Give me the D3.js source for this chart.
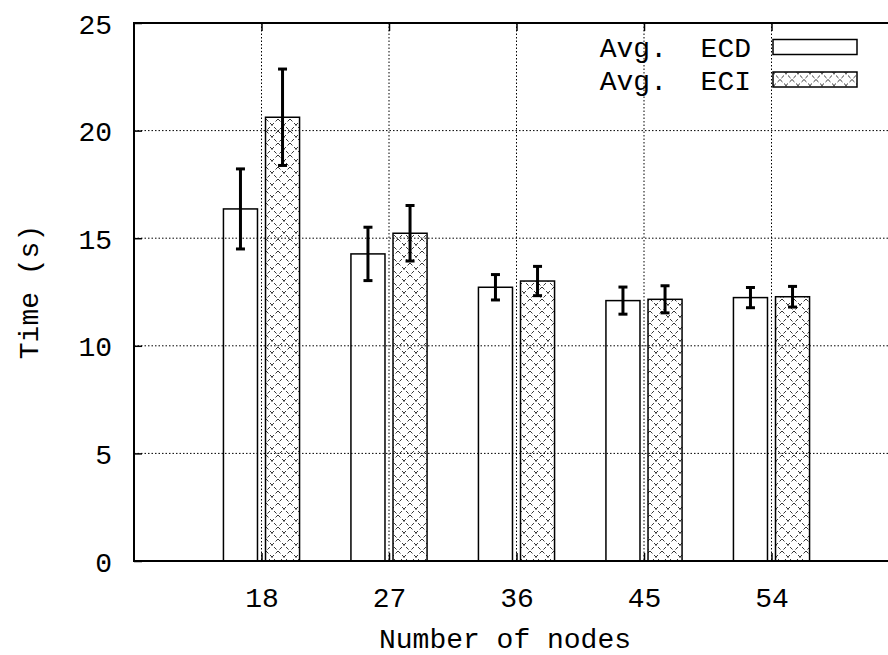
<!DOCTYPE html>
<html>
<head>
<meta charset="utf-8">
<script src="https://cdn.jsdelivr.net/npm/d3@7"></script>
<style>
  html, body { margin: 0; padding: 0; background: #fff; }
  svg text { font-family: "Liberation Mono", "Courier New", monospace; font-size: 28px; fill: #000; white-space: pre; }
</style>
</head>
<body>
<div id="chart"></div>
<script>
// number of nodes
var nodes = [18, 27, 36, 45, 54]
// average ECD time and its error
var ecdAvg = [16.36, 14.27, 12.72, 12.10, 12.24]
var ecdErr = [1.86, 1.24, 0.59, 0.63, 0.47]
// average ECI time and its error
var eciAvg = [20.62, 15.23, 13.01, 12.16, 12.28]
var eciErr = [2.24, 1.29, 0.68, 0.63, 0.48]
var yTicks = [0, 5, 10, 15, 20, 25]
var seriesNames = ['Avg.  ECD', 'Avg.  ECI']

var width = 888, height = 655
var margin = { top: 23, right: -11, bottom: 94, left: 134 }
var w = width - margin.left - margin.right
var h = height - margin.top - margin.bottom

var svg = d3.select('#chart').append('svg')
  .attr('width', width)
  .attr('height', height)

var defs = svg.append('defs')
var pat = defs.append('pattern')
  .attr('id', 'hatch')
  .attr('patternUnits', 'userSpaceOnUse')
  .attr('width', 12)
  .attr('height', 12)
pat.append('path')
  .attr('d', 'M0,0L12,12M12,0L0,12')
  .attr('stroke', '#000')
  .attr('stroke-width', 0.8)
  .attr('stroke-dasharray', '3.5,2.2')
  .attr('fill', 'none')

var x = d3.scaleLinear().domain([0, 6]).range([0, w])
var y = d3.scaleLinear().domain([0, 25]).range([h, 0])

var barW = x(0.267) - x(0)
var off = x(0.165) - x(0)

var g = svg.append('g')
  .attr('transform', 'translate(' + margin.left + ',' + margin.top + ')')

// grid
g.append('g').selectAll('line')
  .data(yTicks.slice(1, -1))
  .enter().append('line')
  .attr('x1', 0).attr('x2', w)
  .attr('y1', function (d) { return y(d) })
  .attr('y2', function (d) { return y(d) })
  .attr('stroke', '#000')
  .attr('stroke-width', 1)
  .attr('stroke-dasharray', '1.5,2')
g.append('g').selectAll('line')
  .data(nodes)
  .enter().append('line')
  .attr('x1', function (d, i) { return x(i + 1) })
  .attr('x2', function (d, i) { return x(i + 1) })
  .attr('y1', 0).attr('y2', h)
  .attr('stroke', '#000')
  .attr('stroke-width', 1)
  .attr('stroke-dasharray', '1.5,2')

// axes
var yAxis = d3.axisLeft(y).tickValues(yTicks).tickSize(-8).tickPadding(22)
var yAxisG = g.append('g').call(yAxis)
var xAxis = d3.axisBottom(x).tickValues([1, 2, 3, 4, 5]).tickSize(-8).tickPadding(26)
  .tickFormat(function (d) { return nodes[d - 1] })
var xAxisG = g.append('g').attr('transform', 'translate(0,' + h + ')').call(xAxis)
var topAxisG = g.append('g').call(d3.axisTop(x).tickValues([1, 2, 3, 4, 5]).tickSize(-8).tickFormat(''))

;[yAxisG, xAxisG, topAxisG].forEach(function (a) {
  a.select('.domain').remove()
  a.selectAll('.tick line').attr('stroke', '#000').attr('stroke-width', 1.5)
  a.selectAll('.tick text').attr('font-family', null).attr('font-size', null)
})
yAxisG.selectAll('.tick text').attr('dy', '0.36em')

// bars
function drawSeries (vals, errs, dx, fill) {
  var s = g.append('g')
  s.selectAll('rect')
    .data(vals)
    .enter().append('rect')
    .attr('x', function (d, i) { return x(i + 1) + dx - barW / 2 })
    .attr('y', function (d) { return y(d) })
    .attr('width', barW)
    .attr('height', function (d) { return h - y(d) })
    .attr('fill', fill)
    .attr('stroke', '#000')
    .attr('stroke-width', 1.5)
  var e = s.selectAll('g.err')
    .data(vals)
    .enter().append('g')
    .attr('class', 'err')
  e.append('line')
    .attr('x1', function (d, i) { return x(i + 1) + dx })
    .attr('x2', function (d, i) { return x(i + 1) + dx })
    .attr('y1', function (d, i) { return y(d - errs[i]) })
    .attr('y2', function (d, i) { return y(d + errs[i]) })
  e.append('line')
    .attr('x1', function (d, i) { return x(i + 1) + dx - 4.5 })
    .attr('x2', function (d, i) { return x(i + 1) + dx + 4.5 })
    .attr('y1', function (d, i) { return y(d - errs[i]) })
    .attr('y2', function (d, i) { return y(d - errs[i]) })
  e.append('line')
    .attr('x1', function (d, i) { return x(i + 1) + dx - 4.5 })
    .attr('x2', function (d, i) { return x(i + 1) + dx + 4.5 })
    .attr('y1', function (d, i) { return y(d + errs[i]) })
    .attr('y2', function (d, i) { return y(d + errs[i]) })
  e.selectAll('line').attr('stroke', '#000').attr('stroke-width', 3)
}
drawSeries(ecdAvg, ecdErr, -off, 'none')
drawSeries(eciAvg, eciErr, off, 'url(#hatch)')

// border
g.append('rect')
  .attr('x', 0).attr('y', 0)
  .attr('width', w).attr('height', h)
  .attr('fill', 'none')
  .attr('stroke', '#000')
  .attr('stroke-width', 2)

// legend
var leg = svg.append('g')
var legItems = leg.selectAll('g')
  .data(seriesNames)
  .enter().append('g')
  .attr('transform', function (d, i) { return 'translate(0,' + (47 + i * 32.5) + ')' })
legItems.append('text')
  .attr('x', 751)
  .attr('dy', '0.36em')
  .attr('text-anchor', 'end')
  .text(function (d) { return d })
legItems.append('rect')
  .attr('x', 773).attr('y', -7.5)
  .attr('width', 84).attr('height', 15)
  .attr('fill', function (d, i) { return i ? 'url(#hatch)' : '#fff' })
  .attr('stroke', '#000')
  .attr('stroke-width', 1.5)

// axis titles
svg.append('text')
  .attr('x', 505)
  .attr('y', 648)
  .attr('text-anchor', 'middle')
  .text('Number of nodes')
svg.append('text')
  .attr('transform', 'translate(38,' + (margin.top + h / 2) + ') rotate(-90)')
  .attr('text-anchor', 'middle')
  .text('Time (s)')
</script>
</body>
</html>
